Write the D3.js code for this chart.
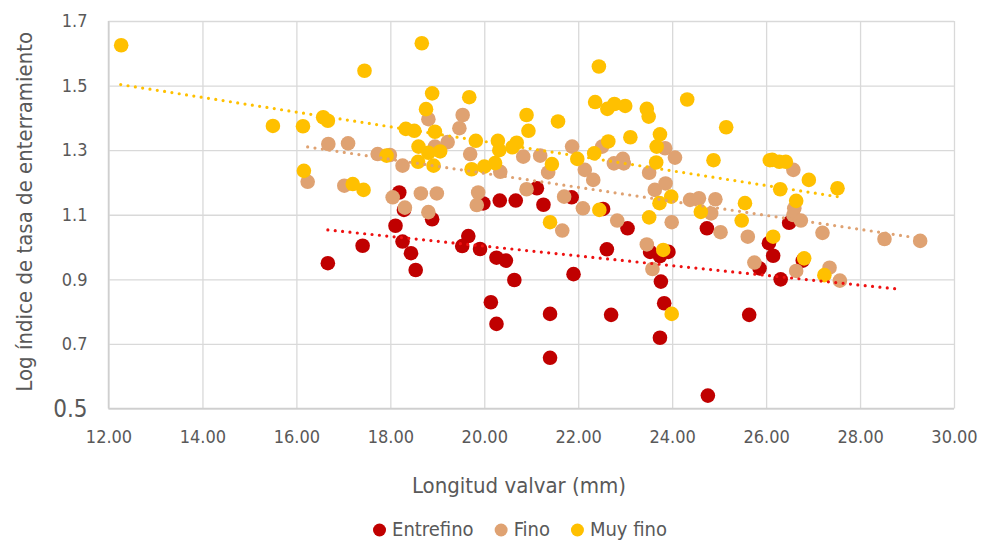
<!DOCTYPE html>
<html>
<head>
<meta charset="utf-8">
<script src="https://cdn.jsdelivr.net/npm/d3@7"></script>
<style>
  body { margin: 0; background: #fff; }
  svg text { font-family: "DejaVu Sans Condensed", "DejaVu Sans", sans-serif; font-stretch: condensed; fill: #595959; }
</style>
</head>
<body>
<div id="viz"></div>
<script>
// series values: [longitud, log indice]
const entrefino = [
  [16.67,0.950],[17.41,1.004],[18.11,1.066],[18.19,1.169],[18.29,1.115],[18.26,1.017],
  [18.44,0.981],[18.54,0.929],[18.89,1.086],[19.53,1.003],[19.66,1.034],[19.91,0.994],
  [19.98,1.135],[20.33,1.144],[20.67,1.144],[20.26,0.967],[20.46,0.958],[20.64,0.898],
  [20.14,0.829],[20.26,0.762],[21.12,1.182],[21.26,1.131],[21.86,1.154],[21.40,0.793],
  [21.40,0.657],[21.90,0.916],[22.53,1.118],[22.61,0.993],[22.70,0.790],[23.05,1.058],
  [23.53,0.985],[23.74,0.972],[23.92,0.985],[23.76,0.893],[23.83,0.826],[23.74,0.719],
  [24.74,1.058],[24.76,0.540],[25.64,0.790],[25.86,0.934],[26.06,1.012],[26.15,0.973],
  [26.49,1.075],[26.31,0.900],[26.78,0.958]
];
const fino = [
  [16.24,1.202],[16.68,1.319],[17.02,1.190],[17.10,1.321],[17.73,1.288],[17.99,1.285],
  [18.05,1.154],[18.26,1.252],[18.31,1.122],[18.65,1.166],[18.81,1.396],[18.81,1.108],
  [18.95,1.311],[18.99,1.166],[19.22,1.325],[19.47,1.368],[19.54,1.409],[19.70,1.288],
  [19.84,1.130],[19.87,1.169],[20.34,1.233],[20.83,1.280],[20.90,1.179],[21.19,1.283],
  [21.36,1.231],[21.66,1.051],[21.70,1.156],[21.87,1.311],[22.10,1.120],[22.14,1.239],
  [22.32,1.208],[22.51,1.311],[22.76,1.259],[22.83,1.082],[22.95,1.273],[22.97,1.259],
  [23.46,1.008],[23.51,1.230],[23.58,0.932],[23.63,1.177],[23.85,1.306],[23.86,1.197],
  [23.99,1.077],[24.06,1.277],[24.38,1.146],[24.57,1.151],[24.83,1.104],[24.92,1.148],
  [25.03,1.046],[25.61,1.032],[25.75,0.952],[26.58,1.239],[26.60,1.120],[26.58,1.099],
  [26.74,1.082],[26.64,0.926],[27.20,1.044],[27.35,0.936],[27.57,0.896],[28.52,1.025],
  [29.28,1.019]
];
const muyFino = [
  [12.27,1.625],[15.50,1.375],[16.14,1.374],[16.16,1.236],[16.57,1.402],[16.67,1.391],
  [17.20,1.195],[17.43,1.177],[17.45,1.546],[17.92,1.283],[18.33,1.366],[18.51,1.360],
  [18.59,1.264],[18.60,1.311],[18.67,1.631],[18.76,1.427],[18.81,1.292],[18.89,1.476],
  [18.92,1.252],[18.95,1.357],[19.06,1.296],[19.68,1.464],[19.73,1.241],[19.82,1.329],
  [20.00,1.249],[20.23,1.260],[20.29,1.329],[20.32,1.300],[20.60,1.309],[20.69,1.323],
  [20.90,1.409],[20.94,1.360],[21.40,1.077],[21.44,1.257],[21.57,1.389],[21.98,1.273],
  [22.34,1.290],[22.36,1.449],[22.44,1.559],[22.45,1.115],[22.62,1.428],[22.64,1.327],
  [22.77,1.443],[23.00,1.437],[23.11,1.340],[23.46,1.428],[23.50,1.404],[23.51,1.092],
  [23.66,1.262],[23.67,1.311],[23.73,1.136],[23.74,1.349],[23.81,0.991],[23.98,1.156],
  [23.99,0.793],[24.32,1.457],[24.61,1.109],[24.88,1.269],[25.15,1.371],[25.48,1.082],
  [25.55,1.136],[26.08,1.269],[26.13,1.270],[26.15,1.032],[26.28,1.264],[26.30,1.179],
  [26.42,1.264],[26.64,1.143],[26.81,0.965],[26.91,1.208],[27.24,0.913],[27.52,1.182]
];
// trend lines (start / end)
const trendEntrefino = [[16.67,1.053],[28.87,0.869]];
const trendFino = [[16.24,1.310],[29.28,1.027]];
const trendMuyFino = [[12.26,1.503],[27.52,1.156]];

const seriesNames = ['Entrefino', 'Fino', 'Muy fino'];
const xTicks = [12,14,16,18,20,22,24,26,28,30];
const yTicks = [0.5,0.7,0.9,1.1,1.3,1.5,1.7];

const width = 982, height = 540;
const margin = { top: 21, right: 28, bottom: 131.5, left: 108.5 };

const colors = ['#C00000', '#DFA272', '#FFC000'];
const trendColors = ['#EE1111', '#DFA272', '#FFC000'];

const svg = d3.select('#viz').append('svg')
  .attr('width', width)
  .attr('height', height);

const xScale = d3.scaleLinear().domain([12, 30]).range([margin.left, width - margin.right]);
const yScale = d3.scaleLinear().domain([0.5, 1.7]).range([height - margin.bottom, margin.top]);

// grid
const xGrid = d3.axisBottom(xScale).tickValues(xTicks).tickSize(-(yScale(0.5) - yScale(1.7))).tickFormat('');
const yGrid = d3.axisLeft(yScale).tickValues(yTicks).tickSize(-(xScale(30) - xScale(12))).tickFormat('');

svg.append('g')
  .attr('transform', 'translate(0,' + yScale(0.5) + ')')
  .call(xGrid)
  .call(g => g.select('.domain').remove())
  .selectAll('line').attr('stroke', '#D9D9D9').attr('stroke-width', 1.3);

svg.append('g')
  .attr('transform', 'translate(' + xScale(12) + ',0)')
  .call(yGrid)
  .call(g => g.select('.domain').remove())
  .selectAll('line').attr('stroke', '#D9D9D9').attr('stroke-width', 1.3);

// axis lines
svg.append('line')
  .attr('x1', xScale(12)).attr('x2', xScale(12))
  .attr('y1', yScale(1.7)).attr('y2', yScale(0.5))
  .attr('stroke', '#CFCFCF').attr('stroke-width', 1.5);
svg.append('line')
  .attr('x1', xScale(12)).attr('x2', xScale(30))
  .attr('y1', yScale(0.5)).attr('y2', yScale(0.5))
  .attr('stroke', '#CFCFCF').attr('stroke-width', 1.5);

// tick labels
const yAxis = d3.axisLeft(yScale).tickValues(yTicks).tickSize(0).tickPadding(21).tickFormat(d3.format('.1f'));
svg.append('g')
  .attr('transform', 'translate(' + xScale(12) + ',0)')
  .call(yAxis)
  .call(g => g.select('.domain').remove())
  .selectAll('text')
    .attr('fill', '#595959')
    .style('font-size', d => d === 0.5 ? '24px' : '18px');

const xAxis = d3.axisBottom(xScale).tickValues(xTicks).tickSize(0).tickPadding(22).tickFormat(d3.format('.2f'));
svg.append('g')
  .attr('transform', 'translate(0,' + yScale(0.5) + ')')
  .call(xAxis)
  .call(g => g.select('.domain').remove())
  .selectAll('text')
    .attr('fill', '#595959')
    .style('font-size', '18px');

// axis titles
svg.append('text')
  .attr('transform', 'translate(32,' + ((yScale(0.5) + yScale(1.7)) / 2 - 3) + ') rotate(-90)')
  .attr('text-anchor', 'middle')
  .style('font-size', '22px')
  .text('Log índice de tasa de enterramiento');

svg.append('text')
  .attr('x', 519)
  .attr('y', 493)
  .attr('text-anchor', 'middle')
  .style('font-size', '22px')
  .text('Longitud valvar (mm)');

// points, in series order
const allSeries = [entrefino, fino, muyFino];
const trends = [trendEntrefino, trendFino, trendMuyFino];

allSeries.forEach((s, i) => {
  svg.append('g')
    .selectAll('circle').data(s)
    .enter().append('circle')
      .attr('cx', d => xScale(d[0]))
      .attr('cy', d => yScale(d[1]))
      .attr('r', 7.3)
      .attr('fill', colors[i]);
});

const line = d3.line().x(d => xScale(d[0])).y(d => yScale(d[1]));
trends.forEach((t, i) => {
  svg.append('path')
    .attr('d', line(t))
    .attr('fill', 'none')
    .attr('stroke', trendColors[i])
    .attr('stroke-width', 3.2)
    .attr('stroke-linecap', 'round')
    .attr('stroke-dasharray', '0,7.4');
});

// legend
const legend = svg.append('g');
let lx = 0;
const gap = 21;
seriesNames.forEach((name, i) => {
  const item = legend.append('g').attr('transform', 'translate(' + lx + ',0)');
  item.append('circle').attr('cx', 6.5).attr('cy', 530).attr('r', 6.5).attr('fill', colors[i]);
  const t = item.append('text')
    .attr('x', 19).attr('y', 535.5)
    .style('font-size', '20px')
    .text(name);
  lx += 19 + t.node().getComputedTextLength() + gap;
});
const lw = lx - gap;
legend.attr('transform', 'translate(' + (520 - lw / 2) + ',0)');
</script>
</body>
</html>
